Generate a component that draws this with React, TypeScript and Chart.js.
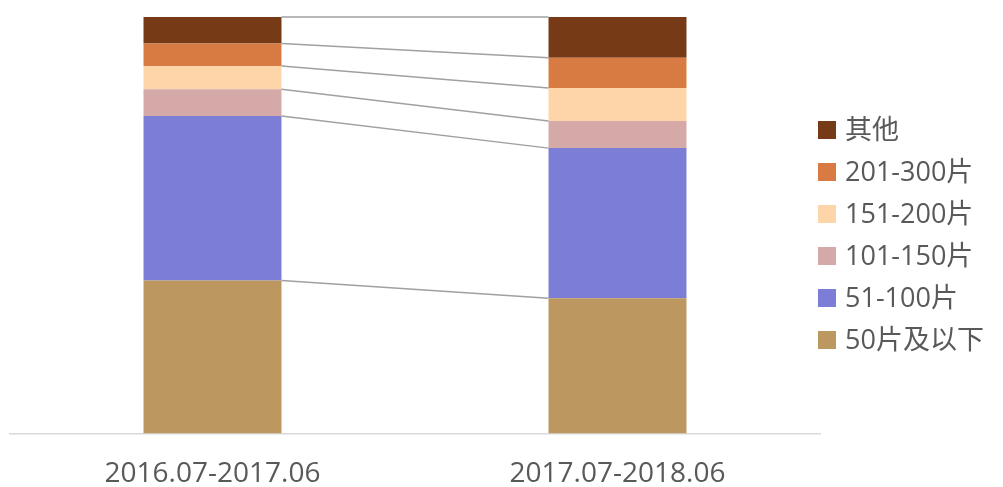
import React, { useEffect, useRef } from "react";
import { Chart, registerables } from "chart.js";

Chart.register(...registerables);

const categories = ["2016.07-2017.06", "2017.07-2018.06"];
const seriesNames = ["50片及以下", "51-100片", "101-150片", "151-200片", "201-300片", "其他"];
const s50 = [36.7, 32.46];
const s51_100 = [39.52, 36.05];
const s101_150 = [6.43, 6.51];
const s151_200 = [5.61, 7.95];
const s201_300 = [5.4, 7.23];
const sOther = [6.34, 9.81];
const seriesColors = ["#BC9860", "#7B7DD6", "#D6A9A9", "#FED5A8", "#D87B43", "#763A17"];

const FONT = "'Open Sans', 'Noto Sans CJK SC', sans-serif";

const seriesLinesPlugin = {
  id: "seriesLines",
  afterDatasetsDraw(chart: any) {
    const ctx = chart.ctx;
    ctx.save();
    ctx.strokeStyle = "#A0A0A0";
    ctx.lineWidth = 1.5;
    chart.data.datasets.forEach((_: any, i: number) => {
      const meta = chart.getDatasetMeta(i);
      const a = meta.data[0] as any;
      const b = meta.data[1] as any;
      if (!a || !b) return;
      ctx.beginPath();
      ctx.moveTo(a.x + a.width / 2, a.y);
      ctx.lineTo(b.x - b.width / 2, b.y);
      ctx.stroke();
    });
    ctx.restore();
  },
};

const legendPlugin = {
  id: "customLegend",
  afterDraw(chart: any) {
    const ctx = chart.ctx;
    ctx.save();
    ctx.font = `27px ${FONT}`;
    ctx.textBaseline = "middle";
    ctx.textAlign = "left";
    const n = chart.data.datasets.length;
    for (let k = 0; k < n; k++) {
      const i = n - 1 - k;
      const ds = chart.data.datasets[i];
      const cy = 130 + k * 42;
      ctx.fillStyle = ds.backgroundColor;
      ctx.fillRect(818, cy - 9, 18, 18);
      ctx.fillStyle = "#595959";
      ctx.fillText(ds.label, 845, cy + 1);
    }
    ctx.restore();
  },
};

export default function App() {
  const ref = useRef<HTMLCanvasElement>(null);
  useEffect(() => {
    const values = [s50, s51_100, s101_150, s151_200, s201_300, sOther];
    const chart = new Chart(ref.current!, {
      type: "bar",
      data: {
        labels: categories,
        datasets: values.map((v, i) => ({
          label: seriesNames[i],
          data: v,
          backgroundColor: seriesColors[i],
          borderWidth: 0,
          categoryPercentage: 1,
          barPercentage: 0.3407,
        })),
      },
      options: {
        animation: false,
        responsive: true,
        maintainAspectRatio: false,
        layout: { padding: { left: 10, right: 183, top: 17, bottom: -28 } },
        plugins: { legend: { display: false }, tooltip: { enabled: false } },
        scales: {
          x: {
            stacked: true,
            grid: { display: false, drawTicks: false },
            border: { display: true, color: "#D9D9D9", width: 1.5 },
            ticks: { color: "#595959", font: { family: FONT, size: 28 }, padding: 24 },
          },
          y: { stacked: true, display: false, min: 0, max: 100 },
        },
      },
      plugins: [seriesLinesPlugin, legendPlugin],
    });
    return () => chart.destroy();
  }, []);
  return (
    <div style={{ position: "fixed", left: 0, top: 0, width: 1003, height: 487, background: "#fff" }}>
      <canvas ref={ref} />
    </div>
  );
}
